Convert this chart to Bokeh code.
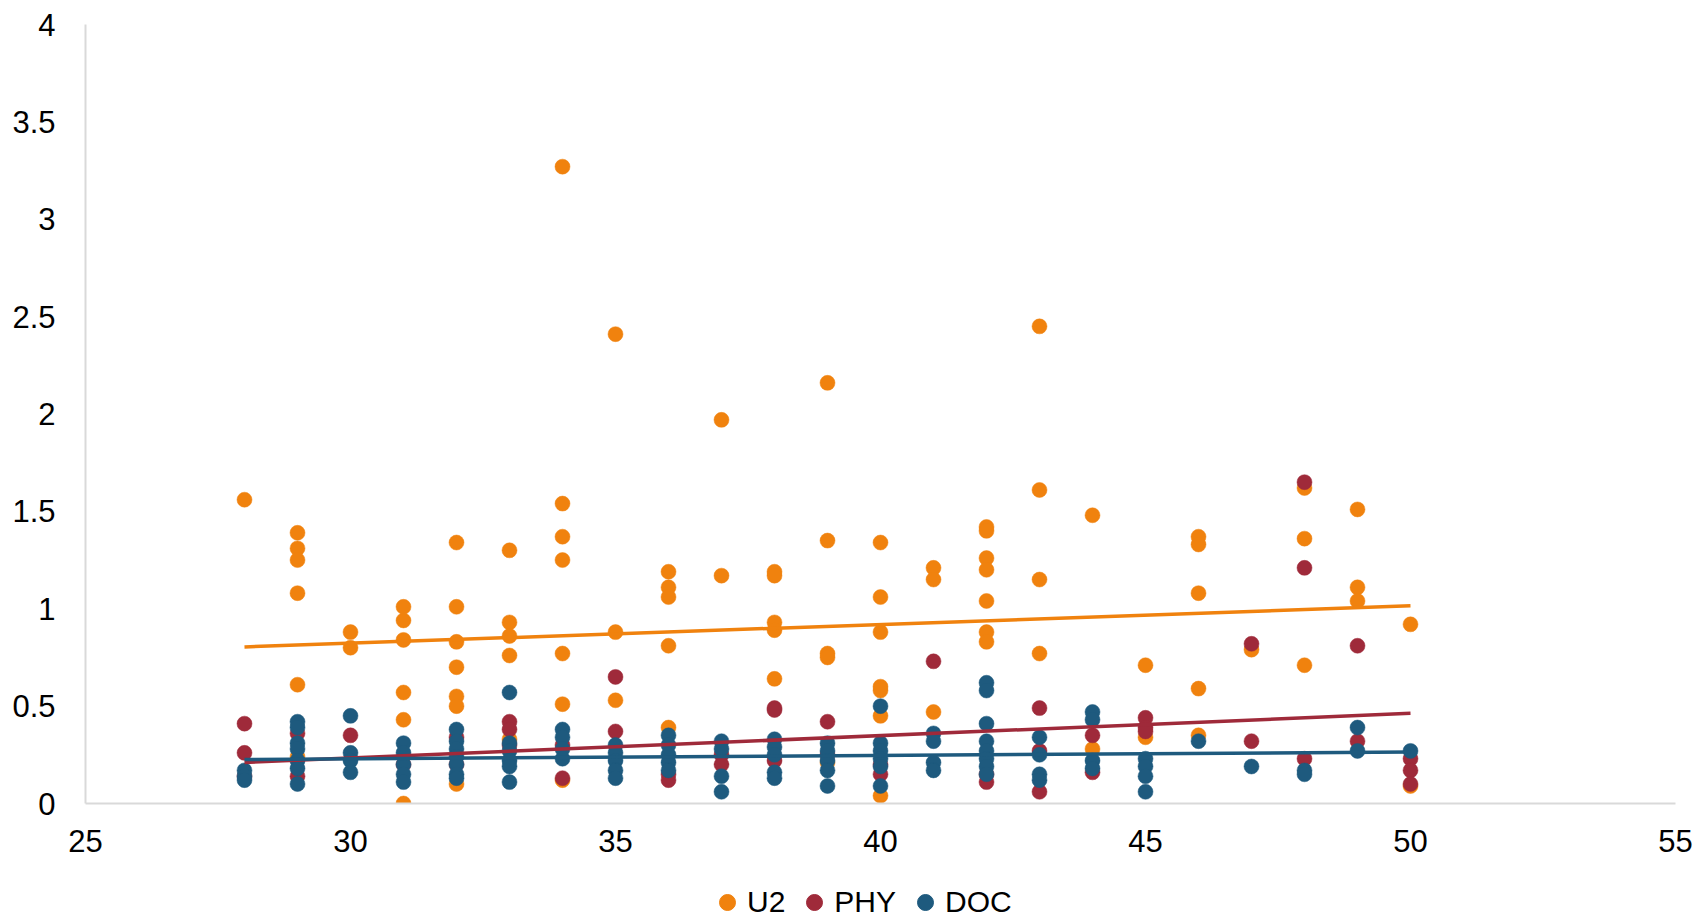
from bokeh.plotting import figure
from bokeh.models import FixedTicker, Legend, LegendItem, ColumnDataSource
from bokeh.layouts import column
from bokeh.embed import file_html
from bokeh.resources import INLINE

# ---- data ----
u2_x = [28,
        29, 29, 29, 29, 29, 29,
        30, 30,
        31, 31, 31, 31, 31, 31,
        32, 32, 32, 32, 32, 32, 32,
        33, 33, 33, 33, 33,
        34, 34, 34, 34, 34, 34, 34,
        35, 35, 35,
        36, 36, 36, 36, 36,
        37, 37,
        38, 38, 38, 38, 38,
        39, 39, 39, 39, 39,
        40, 40, 40, 40, 40, 40, 40,
        41, 41, 41,
        42, 42, 42, 42, 42, 42, 42,
        43, 43, 43, 43,
        44, 44,
        45, 45,
        46, 46, 46, 46, 46,
        47,
        48, 48, 48,
        49, 49, 49,
        50, 50]
u2_y = [1.56,
        1.39, 1.31, 1.25, 1.08, 0.61, 0.24,
        0.88, 0.80,
        1.01, 0.94, 0.84, 0.57, 0.43, 0.00,
        1.34, 1.01, 0.83, 0.70, 0.55, 0.50, 0.10,
        1.30, 0.93, 0.86, 0.76, 0.33,
        3.27, 1.54, 1.37, 1.25, 0.77, 0.51, 0.12,
        2.41, 0.88, 0.53,
        1.19, 1.11, 1.06, 0.81, 0.39,
        1.97, 1.17,
        1.19, 1.17, 0.93, 0.89, 0.64,
        2.16, 1.35, 0.77, 0.75, 0.21,
        1.34, 1.06, 0.88, 0.60, 0.58, 0.45, 0.04,
        1.21, 1.15, 0.47,
        1.42, 1.40, 1.26, 1.20, 1.04, 0.88, 0.83,
        2.45, 1.61, 1.15, 0.77,
        1.48, 0.28,
        0.71, 0.34,
        1.37, 1.33, 1.08, 0.59, 0.35,
        0.79,
        1.62, 1.36, 0.71,
        1.51, 1.11, 1.04,
        0.92, 0.09]

phy_x = [28, 28, 28,
         29, 29,
         30,
         31,
         32, 32,
         33, 33, 33,
         34, 34,
         35, 35,
         36, 36,
         37, 37,
         38, 38, 38,
         39, 39,
         40, 40,
         41,
         42, 42,
         43, 43, 43,
         44, 44,
         45, 45, 45,
         47, 47,
         48, 48, 48,
         49, 49,
         50, 50, 50]
phy_y = [0.41, 0.26, 0.14,
         0.36, 0.14,
         0.35,
         0.20,
         0.34, 0.20,
         0.42, 0.38, 0.30,
         0.13, 0.30,
         0.65, 0.37,
         0.15, 0.12,
         0.25, 0.20,
         0.49, 0.48, 0.22,
         0.42, 0.25,
         0.15, 0.20,
         0.73,
         0.11, 0.15,
         0.49, 0.27, 0.06,
         0.35, 0.16,
         0.44, 0.39, 0.37,
         0.82, 0.32,
         1.65, 1.21, 0.23,
         0.81, 0.32,
         0.23, 0.17, 0.10]

doc_x = [28, 28, 28,
         29, 29, 29, 29, 29, 29, 29,
         30, 30, 30, 30,
         31, 31, 31, 31, 31,
         32, 32, 32, 32, 32, 32, 32,
         33, 33, 33, 33, 33, 33,
         34, 34, 34, 34,
         35, 35, 35, 35, 35,
         36, 36, 36, 36, 36,
         37, 37, 37, 37,
         38, 38, 38, 38, 38,
         39, 39, 39, 39, 39,
         40, 40, 40, 40, 40, 40,
         41, 41, 41, 41,
         42, 42, 42, 42, 42, 42, 42, 42,
         43, 43, 43, 43,
         44, 44, 44, 44,
         45, 45, 45, 45,
         46,
         47,
         48, 48,
         49, 49,
         50]
doc_y = [0.17, 0.14, 0.12,
         0.42, 0.39, 0.31, 0.28, 0.22, 0.18, 0.10,
         0.45, 0.26, 0.22, 0.16,
         0.31, 0.26, 0.20, 0.15, 0.11,
         0.38, 0.32, 0.28, 0.24, 0.20, 0.15, 0.13,
         0.57, 0.31, 0.27, 0.22, 0.19, 0.11,
         0.38, 0.34, 0.28, 0.23,
         0.30, 0.26, 0.22, 0.17, 0.13,
         0.35, 0.30, 0.25, 0.21, 0.17,
         0.32, 0.28, 0.14, 0.06,
         0.33, 0.29, 0.25, 0.16, 0.13,
         0.31, 0.27, 0.22, 0.17, 0.09,
         0.50, 0.31, 0.27, 0.23, 0.19, 0.09,
         0.36, 0.32, 0.21, 0.17,
         0.62, 0.58, 0.41, 0.32, 0.27, 0.23, 0.19, 0.15,
         0.34, 0.25, 0.15, 0.12,
         0.47, 0.43, 0.22, 0.18,
         0.23, 0.19, 0.14, 0.06,
         0.32,
         0.19,
         0.17, 0.15,
         0.39, 0.27,
         0.27]

# linear trend lines (endpoints)
trend_x = [28, 50]
u2_trend = [0.804, 1.015]
phy_trend = [0.211, 0.463]
doc_trend = [0.226, 0.264]

x_ticks = [25, 30, 35, 40, 45, 50, 55]
y_ticks = [0, 0.5, 1, 1.5, 2, 2.5, 3, 3.5, 4]
y_tick_labels = ["0", "0.5", "1", "1.5", "2", "2.5", "3", "3.5", "4"]

series_names = ["U2", "PHY", "DOC"]
colors = ["#F0820E", "#9F2A3A", "#1E5A7E"]

FONT = "Liberation Sans"
MAIN_H = 870
LEG_H = 917 - MAIN_H

p = figure(width=1700, height=MAIN_H, x_range=(25, 55), y_range=(0, 4),
           output_backend="svg", toolbar_location=None,
           min_border_left=85, min_border_right=25, min_border_top=24,
           min_border_bottom=MAIN_H - 803)
p.outline_line_color = None
p.xgrid.grid_line_color = None
p.ygrid.grid_line_color = None
p.background_fill_color = "white"
p.border_fill_color = "white"

for ax in (p.xaxis[0], p.yaxis[0]):
    ax.axis_line_color = "#D9D9D9"
    ax.axis_line_width = 2
    ax.major_tick_line_color = None
    ax.minor_tick_line_color = None
    ax.major_tick_out = 0
    ax.major_tick_in = 0
    ax.major_label_text_font = FONT
    ax.major_label_text_font_size = "31px"
    ax.major_label_text_color = "#000000"

p.xaxis.ticker = FixedTicker(ticks=x_ticks)
p.yaxis.ticker = FixedTicker(ticks=y_ticks)
p.yaxis.major_label_overrides = {t: s for t, s in zip(y_ticks, y_tick_labels)}
p.xaxis.major_label_standoff = 26
p.yaxis.major_label_standoff = 30

series = [(u2_x, u2_y), (phy_x, phy_y), (doc_x, doc_y)]
for (xs, ys), c in zip(series, colors):
    src = ColumnDataSource(dict(x=xs, y=ys))
    p.scatter("x", "y", source=src, size=15, fill_color=c, line_color=c,
              line_width=0.5)

for ty, c in zip([u2_trend, phy_trend, doc_trend], colors):
    p.line(trend_x, ty, line_color=c, line_width=3.5)

# legend strip below the chart (its renderers hold the same series, out of its view)
q = figure(width=1700, height=LEG_H, x_range=(0, 1), y_range=(0, 1),
           output_backend="svg", toolbar_location=None,
           x_axis_type=None, y_axis_type=None,
           min_border_left=0, min_border_right=0, min_border_top=0, min_border_bottom=0)
q.outline_line_color = None
q.xgrid.grid_line_color = None
q.ygrid.grid_line_color = None
q.border_fill_color = "white"

leg_renderers = [q.scatter(xs, ys, size=15, fill_color=c, line_color=c)
                 for (xs, ys), c in zip(series, colors)]
legend = Legend(items=[LegendItem(label=n, renderers=[r]) for n, r in zip(series_names, leg_renderers)],
                orientation="horizontal", location=(622, -5),
                label_text_font=FONT, label_text_font_size="30px",
                label_text_color="#000000",
                glyph_width=40, glyph_height=40, label_standoff=0, spacing=9,
                padding=0, margin=0, border_line_color=None,
                background_fill_alpha=0)
q.add_layout(legend, "center")

open("out.html", "w").write(file_html(column(p, q, spacing=0), INLINE))
